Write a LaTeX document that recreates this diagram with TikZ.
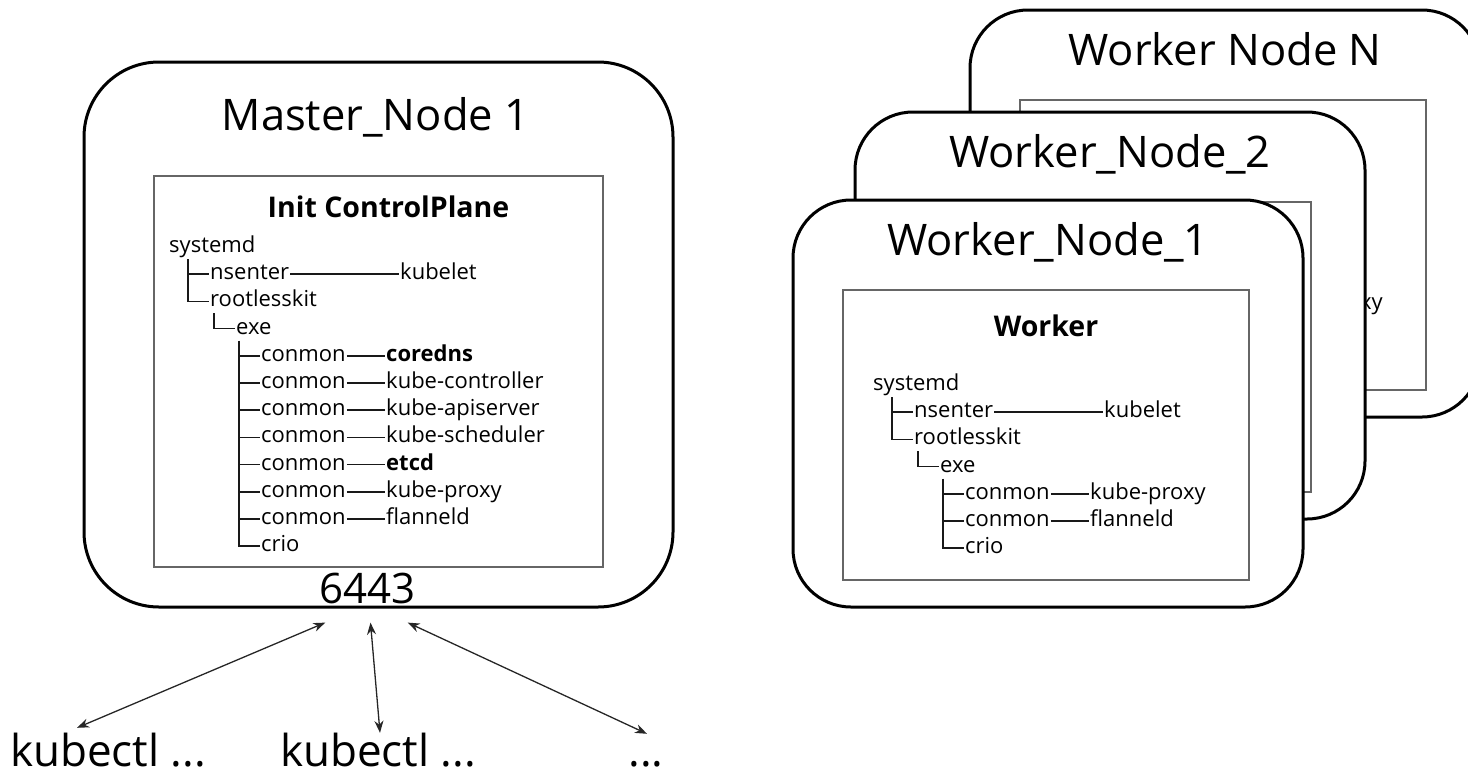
\documentclass[tikz,border=0pt]{standalone}
\usepackage{fontspec}
\setmainfont{Open Sans}
\usetikzlibrary{arrows.meta,calc,positioning}

\tikzset{
    hostbox/.style={draw=black, line width=3pt, fill=white, rounded corners=58pt},
    procbox/.style={draw=black!60, line width=1.5pt, fill=white},
    hosttitle/.style={font=\fontsize{43.5}{52}\selectfont, inner sep=0pt, anchor=base},
    proctitle/.style={font=\bfseries\fontsize{28.5}{34}\selectfont, inner sep=0pt, anchor=base},
    proc/.style={font=\fontsize{22}{26}\selectfont, anchor=west, inner xsep=1pt, inner ysep=0pt,
        text height=16pt, text depth=5pt},
    branch/.style={draw=black!90, line width=1.7pt},
    port/.style={font=\fontsize{42}{50}\selectfont, inner sep=0pt, anchor=base},
    client/.style={font=\fontsize{44}{52}\selectfont, inner sep=0pt, anchor=base, text height=33pt, text depth=0pt},
    link/.style={draw=black!85, line width=1.3pt, {Stealth[length=12pt,width=9pt]}-{Stealth[length=12pt,width=9pt]}},
}

\newcommand{\rowh}{27.2}
% process tree: #1 prefix, #2 position of systemd, #3 conmon children, #4 row of crio
\newcommand{\proctree}[4]{%
    \begin{scope}[shift={#2}]
        \node[proc] (#1-systemd) at (0,0) {systemd};
        \node[proc] (#1-nsenter) at (41,\rowh) {nsenter};
        \node[proc] (#1-kubelet) at (231,\rowh) {kubelet};
        \node[proc] (#1-rootless) at (41,2*\rowh) {rootlesskit};
        \node[proc] (#1-exe) at (67,3*\rowh) {exe};
        \node[proc] (#1-crio) at (92,#4*\rowh) {crio};
        \draw[branch] (#1-nsenter) -- (#1-kubelet);
        \draw[branch] (20,12) |- (#1-rootless.west);
        \draw[branch] (20,\rowh) -- (#1-nsenter.west);
        \draw[branch] (46,2*\rowh+12) |- (#1-exe.west);
        \draw[branch] (71,3*\rowh+12) |- (#1-crio.west);
        \foreach \child [count=\i] in {#3} {
            \node[proc] (#1-conmon\i) at (92,{(3+\i)*\rowh}) {conmon};
            \node[proc] (#1-child\i) at (217,{(3+\i)*\rowh}) {\child};
            \draw[branch] (#1-conmon\i) -- (#1-child\i);
            \draw[branch] (71,{(3+\i)*\rowh}) -- (#1-conmon\i.west);
        }
    \end{scope}}

\begin{document}
\begin{tikzpicture}[x=1pt, y=-1pt]
    \useasboundingbox (0,0) rectangle (1468,777);

    % master node
    \node[hostbox, rounded corners=75pt, minimum width=589pt, minimum height=545pt] (master) at (378.5,334.5) {};
    \node[hosttitle] (master-title) at ($(master.north)+(-3,70)$) {Master\_Node 1};
    \node[procbox, minimum width=449pt, minimum height=391pt] (master-proc) at (378.5,371.5) {};
    \node[proctitle] (master-label) at ($(master-proc.north)+(10,42)$) {Init ControlPlane};
    \proctree{master}{(168,247)}{\textbf{coredns},kube-controller,kube-apiserver,kube-scheduler,\textbf{etcd},kube-proxy,flanneld}{11}

    \node[port] (port) at (367.5,603) {6443};
    \node[client] (client1) at (108,766) {kubectl ...};
    \node[client] (client2) at (378,766) {kubectl ...};
    \node[client] (client3) at (646,766) {...};
    \draw[link] ($(port.south west)+(6,19)$) -- ($(client1.north)+(-31,-5)$);
    \draw[link] ($(port.south)+(3,19)$) -- ($(client2.north)+(2,0)$);
    \draw[link] ($(port.south east)+(-8,19)$) -- ($(client3.north)+(1,1)$);

    % worker nodes, back to front
    \node[hostbox, minimum width=510pt, minimum height=407pt] (wn) at (1225,213.5) {};
    \node[hosttitle] (wn-title) at ($(wn.north)+(0,57)$) {Worker Node N};
    \node[procbox, minimum width=406pt, minimum height=290pt] (wn-proc) at (1223,245) {};
    \node[proc] (wn-child1) at (1266,303.8) {kube-proxy};

    \foreach \dx/\dy/\host/\hostlabel in {62/-88/w2/Worker\_Node\_2, 0/0/w1/Worker\_Node\_1} {
        \begin{scope}[shift={(\dx,\dy)}]
            \node[hostbox, minimum width=510pt, minimum height=407pt] (\host) at (1048,403.5) {};
            \node[hosttitle] (\host-title) at ($(\host.north)+(0,57)$) {\hostlabel};
            \node[procbox, minimum width=406pt, minimum height=290pt] (\host-proc) at (1046,435) {};
        \end{scope}
    }
    \node[proctitle] (w1-label) at ($(w1-proc.north)+(0,47)$) {Worker};
    \proctree{w1}{(872,385)}{kube-proxy,flanneld}{6}
\end{tikzpicture}
\end{document}
